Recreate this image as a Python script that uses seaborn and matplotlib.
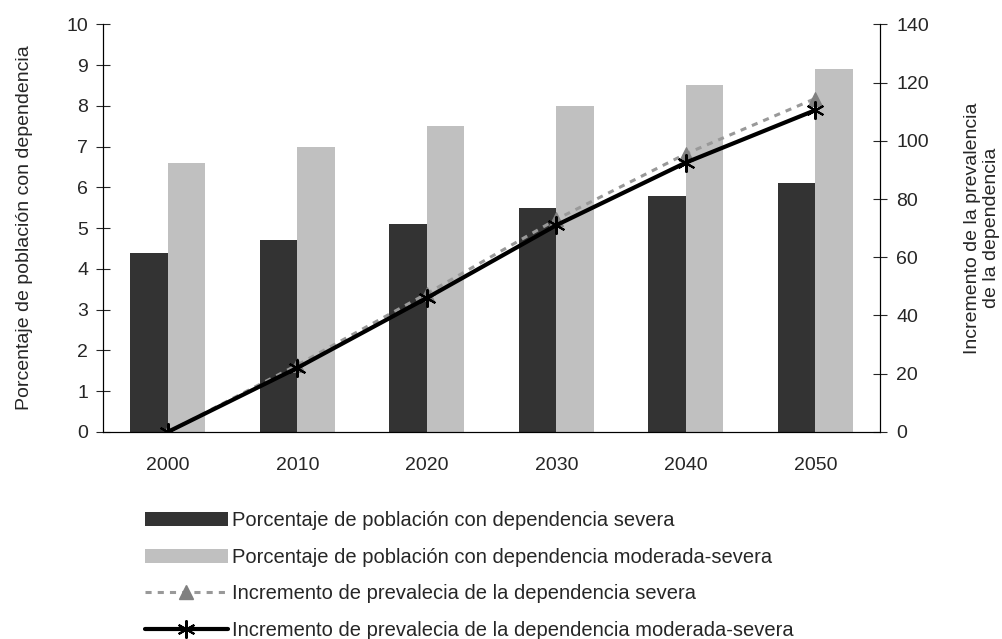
import pandas as pd
import seaborn as sns
import matplotlib.pyplot as plt
from matplotlib.patches import Patch
from matplotlib.lines import Line2D

years = ['2000', '2010', '2020', '2030', '2040', '2050']
pct_severa = [4.4, 4.7, 5.1, 5.5, 5.8, 6.1]
pct_mod_severa = [6.6, 7.0, 7.5, 8.0, 8.5, 8.9]
inc_severa = [0, 23, 47.5, 73, 95.5, 114.5]
inc_mod_severa = [0, 22, 46, 71, 92.5, 110.5]

lab_bar1 = 'Porcentaje de población con dependencia severa'
lab_bar2 = 'Porcentaje de población con dependencia moderada-severa'
lab_line1 = 'Incremento de prevalecia de la dependencia severa'
lab_line2 = 'Incremento de prevalecia de la dependencia moderada-severa'

sns.set_style('white')
plt.rcParams['font.family'] = ['Liberation Sans', 'DejaVu Sans']
plt.rcParams['font.size'] = 14

df = pd.DataFrame({
    'year': years * 2,
    'value': pct_severa + pct_mod_severa,
    'serie': [lab_bar1] * 6 + [lab_bar2] * 6,
})
df_lines = pd.DataFrame({
    'year': years * 2,
    'value': inc_severa + inc_mod_severa,
    'serie': [lab_line1] * 6 + [lab_line2] * 6,
})

fig = plt.figure(figsize=(10.03, 6.39), dpi=100)
ax = fig.add_axes([0.1027, 0.324, 0.7747, 0.638])

sns.barplot(data=df, x='year', y='value', hue='serie',
            palette=['#333333', '#c0c0c0'], width=0.58, saturation=1,
            linewidth=0, legend=False, ax=ax)
ax.set_xlim(-0.5, 5.5)
ax.set_ylim(0, 10)
ax.set_yticks(range(0, 11))
ax.set_xlabel('')
ax.set_ylabel('Porcentaje de población con dependencia', fontsize=14, labelpad=24)

ax2 = ax.twinx()
sev = df_lines[df_lines['serie'] == lab_line1]
mod = df_lines[df_lines['serie'] == lab_line2]
sns.lineplot(data=sev, x='year', y='value', color='#999999', lw=2.2,
             linestyle=(0, (2, 2)), marker='^', markersize=10,
             markerfacecolor='#808080', markeredgecolor='#808080', ax=ax2)
sns.lineplot(data=mod, x='year', y='value', color='black', lw=3,
             marker=(6, 2, 0), markersize=13, markeredgewidth=1.5,
             markeredgecolor='black', ax=ax2)
ax2.set_ylim(0, 140)
ax2.set_yticks(range(0, 141, 20))
ax2.set_xlim(-0.5, 5.5)
ax2.set_xlabel('')
ax2.set_ylabel('Incremento de la prevalencia\nde la dependencia', fontsize=14,
               labelpad=25, rotation=90)

for a in (ax, ax2):
    for s in a.spines.values():
        s.set_color('black')
        s.set_linewidth(0.8)
    a.spines['top'].set_visible(False)

ax.set_xticks(range(6))
ax.set_xticklabels(years)
ax.set_xticks([i + 0.5 for i in range(-1, 6)], minor=True)
ax.tick_params(axis='x', which='major', length=0, pad=18, labelsize=14)
ax.tick_params(axis='x', which='minor', length=9, direction='inout', width=0.8)
ax.tick_params(axis='y', length=9.5, direction='inout', width=0.8, labelsize=14, pad=6)
ax2.tick_params(axis='y', length=9.5, direction='inout', width=0.8, labelsize=14, pad=7)

handles = [
    Patch(facecolor='#333333', edgecolor='none'),
    Patch(facecolor='#c0c0c0', edgecolor='none'),
    Line2D([], [], color='#999999', lw=2.2, linestyle=(0, (2, 2)), marker='^',
           markersize=10, markerfacecolor='#808080', markeredgecolor='#808080'),
    Line2D([], [], color='black', lw=3, marker=(6, 2, 0), markersize=13,
           markeredgewidth=1.5),
]
fig.legend(handles, [lab_bar1, lab_bar2, lab_line1, lab_line2],
           loc='upper left', bbox_to_anchor=(0.1446, 0.2), frameon=False,
           fontsize=14.5, handlelength=4.1, handleheight=0.7, handletextpad=0.2,
           labelspacing=0.87, borderpad=0, borderaxespad=0)

fig.savefig('out.png', dpi=100)
